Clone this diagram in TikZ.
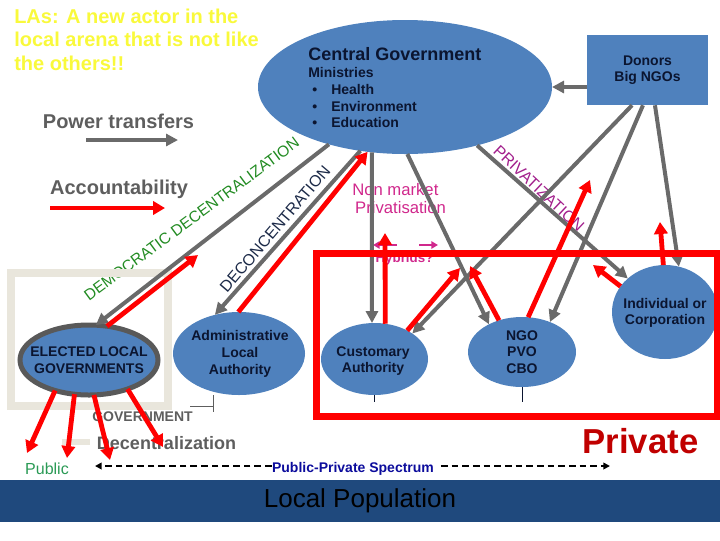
\documentclass[tikz,border=0pt]{standalone}
\usepackage{fontspec}
\setmainfont{Liberation Sans}
\usepackage{tikz}
\usetikzlibrary{arrows.meta,shapes.geometric}
\definecolor{actorblue}{HTML}{4F81BD}
\definecolor{powergray}{HTML}{6A6A6A}
\definecolor{rimgray}{HTML}{595959}
\definecolor{accred}{HTML}{FF0000}
\definecolor{inkblue}{HTML}{0B1530}
\definecolor{titleyellow}{HTML}{F9F93B}
\definecolor{labelgray}{HTML}{5E5E5E}
\definecolor{decgreen}{HTML}{228B22}
\definecolor{deconink}{HTML}{1C2A48}
\definecolor{privpurple}{HTML}{A21F8C}
\definecolor{hybmagenta}{HTML}{D0288C}
\definecolor{framebeige}{HTML}{E9E6DC}
\definecolor{publicgreen}{HTML}{2A9A55}
\definecolor{privatered}{HTML}{C00000}
\definecolor{specblue}{HTML}{0C0C9C}
\definecolor{popband}{HTML}{1F497D}
\newcommand{\fsz}[2]{\fontsize{#1}{#2}\selectfont}

\begin{document}
\begin{tikzpicture}[x=0.75pt,y=-0.75pt,
  actor/.style={ellipse, fill=actorblue, inner sep=0pt, outer sep=0pt},
  actortext/.style={align=center, inner sep=0pt, text=inkblue, font=\bfseries\fsz{10.5}{12.5}},
  cglist/.style={anchor=base west, inner sep=0pt, text=inkblue, font=\bfseries\fsz{10.5}{12.5}},
  power/.style={draw=powergray, line width=3pt, -{Triangle[length=9pt,width=9pt]}},
  account/.style={draw=accred, line width=3.6pt, -{Triangle[length=9pt,width=10pt]}},
  routelbl/.style={inner sep=0pt, font=\fsz{12}{14}},
  legendlbl/.style={inner sep=0pt, anchor=base, text=labelgray, font=\bfseries\fsz{15}{18}},
  hybarrow/.style={draw=hybmagenta, line width=1.5pt, -{Triangle[length=5pt,width=5.5pt]}},
  spectrum/.style={draw=black, line width=1.5pt, dash pattern=on 5pt off 3pt, -{Triangle[length=5pt,width=5pt]}},
  stub/.style={line width=0.6pt}]
\useasboundingbox (0,0) rectangle (720,540);

% title and legend
\node[anchor=north west, align=left, inner sep=0pt, text=titleyellow, font=\bfseries\fsz{15}{17.6}] (title) at (14,8.5)
  {LAs: A new actor in the\\local arena that is not like\\the others!!};
\node[legendlbl] (ptlbl) at (118.5,128.7) {Power transfers};
\node[legendlbl] (acclbl) at (119,194) {Accountability};
\coordinate (pt1) at (86,140);
\coordinate (pt2) at (178,140);
\coordinate (ac1) at (50,208);
\coordinate (ac2) at (165,208);
\draw[power] (pt1) -- (pt2);
\draw[account] (ac1) -- (ac2);

% route labels
\node[routelbl, text=decgreen, rotate=36.5, font=\fsz{11.7}{14}] (demdec) at (191.5,219) {DEMOCRATIC DECENTRALIZATION};
\node[routelbl, text=deconink, rotate=49.6] (decon) at (275,229) {DECONCENTRATION};
\node[routelbl, text=privpurple, rotate=-43.2] (privat) at (539,188.5) {PRIVATIZATION};
\node[anchor=north west, align=left, inner sep=0pt, text=hybmagenta, font=\fsz{12.5}{13.5}] (nonmkt) at (352,183)
  {Non market\\\hspace*{2.2pt}Privatisation};
\node[anchor=base, inner sep=0pt, text=hybmagenta, font=\bfseries\fsz{10}{12}] (hyb) at (404.5,262) {Hybrids?};
\coordinate (hl0) at (397,245);
\coordinate (hl1) at (373,245);
\coordinate (hr0) at (419,245);
\coordinate (hr1) at (438,245);
\draw[hybarrow] (hl0) -- (hl1);
\draw[hybarrow] (hr0) -- (hr1);

% local government frame
\draw[framebeige, line width=6pt] (11,272.5) rectangle (167.5,405.5);
\draw[framebeige, line width=4.5pt] (62,442) -- (90,442);
\node[anchor=base, inner sep=0pt, text=labelgray, font=\bfseries\fsz{10.5}{12}] (govlbl) at (142.5,421) {GOVERNMENT};
\node[anchor=base, inner sep=0pt, text=labelgray, font=\bfseries\fsz{13.5}{16}] (declbl) at (166.5,449.5) {Decentralization};

% actors
\node[actor, minimum width=220.5pt, minimum height=100.5pt] (cg) at (405,87) {};
\node[cglist, font=\bfseries\fsz{13.5}{16}] (cgname) at (308,60) {Central Government};
\node[cglist] (cgmin) at (308,77) {Ministries};
\foreach \y/\w [count=\i] in {94/Health,111/Environment,127/Education} {
  \node[cglist] (cgb\i) at (312,\y) {\textbullet};
  \node[cglist] (cgm\i) at (331,\y) {\w};
}
\node[fill=actorblue, minimum width=90.75pt, minimum height=52.5pt, inner sep=0pt, align=center,
  text=inkblue, font=\bfseries\fsz{10.5}{12}] (donors) at (647.5,70) {Donors\\Big NGOs};

\node[actor, draw=rimgray, line width=3.75pt, minimum width=103.5pt, minimum height=52.5pt] (elg) at (89,360) {};
\node[actortext, font=\bfseries\fsz{10.5}{12.75}] (elgtext) at (elg) {ELECTED LOCAL\\GOVERNMENTS};
\node[actor, minimum width=99pt, minimum height=62.25pt] (ala) at (239,353.5) {};
\node[actortext, font=\bfseries\fsz{10.5}{12.75}] (alatext) at (240,354) {Administrative\\Local\\Authority};
\node[actor, minimum width=80.25pt, minimum height=54pt] (ca) at (374.5,359) {};
\node[actortext] (catext) at (373,361) {Customary\\Authority};
\node[actor, minimum width=81pt, minimum height=52.5pt] (ngo) at (522,352) {};
\node[actortext] (ngotext) at (ngo) {NGO\\PVO\\CBO};
\node[actor, minimum width=79.5pt, minimum height=70.5pt] (ind) at (665,312) {};
\node[actortext] (indtext) at (665,313) {Individual or\\Corporation};

% power transfers
\draw[power] (cg.217.4) -- (elg.79);
\draw[power] (cg.235.3) -- (ala.122);
\draw[power] (cg.243.2) -- (ca.94);
\draw[power] (cg.272.6) -- (ngo.140);
\draw[power] (cg.321.5) -- (ind.138.6);
\draw[power] (donors.west |- cg.east) -- (cg.east);
\draw[power] ([xshift=-11.6pt]donors.south) -- (ca.34);
\draw[power] ([xshift=-3.4pt]donors.south) -- (ngo.47.7);
\draw[power] ([xshift=5.6pt]donors.south) -- (ind.73);

% accountability
\coordinate (elgup) at (198,255);
\coordinate (caup) at (385,233);
\coordinate (meetl) at (460,268);
\coordinate (meetr) at (470,266);
\coordinate (ngoup) at (590,180);
\coordinate (indl) at (593,265);
\coordinate (indup) at (660,222);
\draw[account] (elg.62.3) -- (elgup);
\draw[account] (ala.91.4) -- (cg.240.2);
\draw[account] (ca.73.7) -- (caup);
\draw[account] (ca.41.6) -- (meetl);
\draw[account] (ngo.126) -- (meetr);
\draw[account] (ngo.80) -- (ngoup);
\draw[account] (ind.150) -- (indl);
\draw[account] (ind.92.4) -- (indup);
\foreach \a/\x/\y [count=\i] in {222/27/453,247/67/458,278.5/110/460,323/163/447} {
  \coordinate (pub\i) at (\x,\y);
  \draw[account] (elg.\a) -- (pub\i);
}

% private sphere
\draw[accred, line width=5.25pt] (316,253.5) rectangle (717,416);

% small marks
\draw[labelgray, stub] (190,406) -- (213,406) (213,395) -- (213,412);
\draw[inkblue, stub] (ca.south) -- ++(0,7);
\draw[inkblue, stub] (ngo.south) -- ++(0,15);

% spectrum
\node[anchor=base, inner sep=0pt, text=publicgreen, font=\fsz{12}{14}] (public) at (47,474) {Public};
\node[anchor=base, inner sep=0pt, text=privatered, font=\bfseries\fsz{26}{30}] (private) at (640.5,453.5) {Private};
\node[anchor=base, inner sep=0pt, text=specblue, font=\bfseries\fsz{10.5}{12}] (spec) at (353,472.5) {Public-Private Spectrum};
\coordinate (specl) at (95,466);
\coordinate (specr) at (610,466);
\draw[spectrum] (spec.west |- specl) -- (specl);
\draw[spectrum, shorten <=5pt] (spec.east |- specr) -- (specr);

\node[fill=popband, minimum width=540pt, minimum height=31.5pt, inner sep=0pt, font=\fsz{19.5}{22}] (pop) at (360,501) {Local Population};
\end{tikzpicture}
\end{document}
